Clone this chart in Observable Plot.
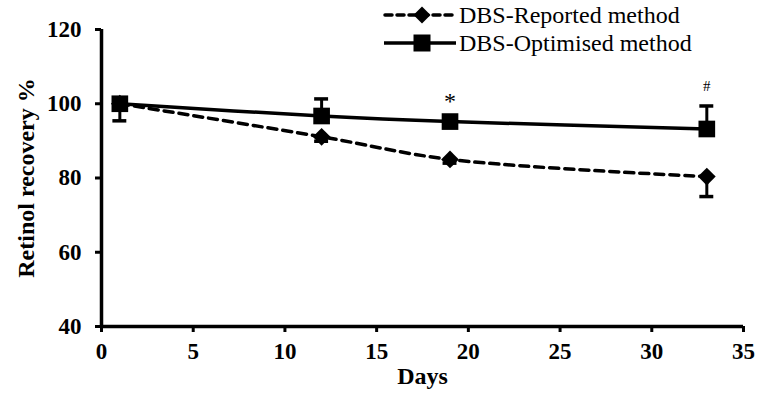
<!DOCTYPE html>
<html>
<head>
<meta charset="utf-8">
<script src="https://cdn.jsdelivr.net/npm/d3@7"></script>
<script src="https://cdn.jsdelivr.net/npm/@observablehq/plot@0.6"></script>
<style>
  html, body { margin: 0; padding: 0; background: #fff; }
  #wrap { position: relative; width: 760px; height: 396px; font-family: "Liberation Serif", "Times New Roman", serif; }
  #chart svg text { font-family: "Liberation Serif", "Times New Roman", serif !important; }
  #legend { position: absolute; left: 383px; top: 1px; font-size: 24px; color: #000; font-family: "Liberation Serif", "Times New Roman", serif; }
  #legend .row { display: flex; align-items: center; height: 28px; }
  #legend svg { margin-right: 2px; }
</style>
</head>
<body>
<div id="wrap">
  <div id="chart"></div>
  <div id="legend"></div>
</div>
<script>
// Data
const days = [1, 12, 19, 33];
const reported = [100, 91.1, 85.0, 80.4];
const reportedErrLow = [4.6, 1.2, 1.0, 5.4];
const optimised = [100, 96.7, 95.2, 93.2];
const optimisedErrHigh = [0.5, 4.6, 1.0, 6.2];
const seriesNames = ["DBS-Reported method", "DBS-Optimised method"];
const annotations = [{day: 19, y: 100.6, label: "*"}, {day: 33, y: 104.6, label: "#"}];
const xTicks = [0, 5, 10, 15, 20, 25, 30, 35];
const yTicks = [40, 60, 80, 100, 120];

const rep = days.map((d, i) => ({day: d, v: reported[i], lo: reported[i] - reportedErrLow[i]}));
const opt = days.map((d, i) => ({day: d, v: optimised[i], hi: optimised[i] + optimisedErrHigh[i]}));
const capHalf = 0.38;

const font = '"Liberation Serif", "Times New Roman", serif';

const chart = Plot.plot({
  width: 760,
  height: 396,
  marginLeft: 101,
  marginRight: 17,
  marginTop: 29,
  marginBottom: 70,
  style: {fontFamily: font, fontSize: "22px", background: "#fff", color: "#000"},
  x: {domain: [0, 35]},
  y: {domain: [40, 120]},
  marks: [
    Plot.axisX({ticks: xTicks, tickSize: 6, strokeWidth: 3, tickFormat: () => "", label: null}),
    Plot.axisY({ticks: yTicks, tickSize: 6, strokeWidth: 3, tickFormat: () => "", label: null}),
    // tick labels
    Plot.text(xTicks, {x: d => d, frameAnchor: "bottom", dy: 32, text: d => String(d), fontSize: 23, fontWeight: "bold", fill: "#000"}),
    Plot.text(yTicks, {y: d => d, frameAnchor: "left", dx: -20, textAnchor: "end", text: d => String(d), fontSize: 23, fontWeight: "bold", fill: "#000"}),
    Plot.ruleX([0], {strokeWidth: 3.5}),
    Plot.ruleY([40], {strokeWidth: 3.5}),
    Plot.ruleX(rep, {x: "day", y1: "v", y2: "lo", strokeWidth: 3}),
    Plot.ruleY(rep, {y: "lo", x1: d => d.day - capHalf, x2: d => d.day + capHalf, strokeWidth: 3.5}),
    Plot.ruleX(opt, {x: "day", y1: "v", y2: "hi", strokeWidth: 3}),
    Plot.ruleY(opt, {y: "hi", x1: d => d.day - capHalf, x2: d => d.day + capHalf, strokeWidth: 3.5}),
    Plot.line(rep, {x: "day", y: "v", curve: "catmull-rom", strokeWidth: 3.5, strokeDasharray: "9,6", strokeLinecap: "round"}),
    Plot.line(opt, {x: "day", y: "v", curve: "catmull-rom", strokeWidth: 3.5}),
    Plot.dot(rep, {x: "day", y: "v", symbol: "diamond2", r: 8, fill: "#000", stroke: "none"}),
    Plot.dot(opt, {x: "day", y: "v", symbol: "square", r: 9.4, fill: "#000", stroke: "none"}),
    Plot.text(annotations.slice(0, 1), {x: "day", y: "y", text: "label", fontSize: 24, fill: "#000"}),
    Plot.text(annotations.slice(1), {x: "day", y: "y", text: "label", fontSize: 15, fill: "#000"}),
    Plot.text(["Days"], {frameAnchor: "bottom", dy: 57, text: d => d, fontSize: 24, fontWeight: "bold", fill: "#000"}),
    Plot.text(["Retinol recovery %"], {frameAnchor: "left", textAnchor: "middle", dx: -75, rotate: -90, text: d => d, fontSize: 24, fontWeight: "bold", fill: "#000"})
  ]
});
document.getElementById("chart").appendChild(chart);

// Legend
const legend = document.getElementById("legend");
seriesNames.forEach((name, i) => {
  const row = document.createElement("div");
  row.className = "row";
  const sw = i === 0
    ? `<svg width="74" height="20"><line x1="2" y1="10" x2="72" y2="10" stroke="#000" stroke-width="3.5" stroke-dasharray="7,5" stroke-linecap="round"/><path d="M39,1.5L47.5,10L39,18.5L30.5,10Z" fill="#000"/></svg>`
    : `<svg width="74" height="20"><line x1="1" y1="10" x2="73" y2="10" stroke="#000" stroke-width="3.5"/><rect x="30.5" y="1.5" width="17" height="17" fill="#000"/></svg>`;
  row.innerHTML = sw + `<span>${name}</span>`;
  legend.appendChild(row);
});
</script>
</body>
</html>
